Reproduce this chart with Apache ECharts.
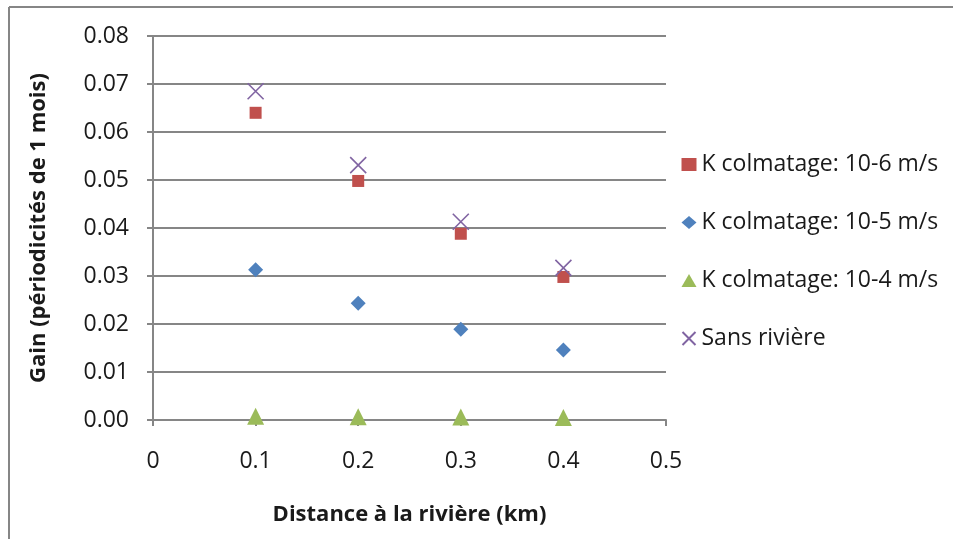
<!DOCTYPE html>
<html>
<head>
<meta charset="utf-8">
<script src="https://cdn.jsdelivr.net/npm/echarts@6/dist/echarts.min.js"></script>
<style>
  html, body { margin: 0; padding: 0; background: #fff; }
  #main { width: 953px; height: 539px; }
</style>
</head>
<body>
<div id="main"></div>
<script>
var distances = [0.1, 0.2, 0.3, 0.4];
var k6Values = [0.0640, 0.0498, 0.0388, 0.0298];
var k5Values = [0.0313, 0.0243, 0.0189, 0.0146];
var k4Values = [0.0008, 0.0007, 0.0006, 0.0005];
var sansValues = [0.0685, 0.0531, 0.0413, 0.0317];
var seriesNames = ['K colmatage: 10-6 m/s', 'K colmatage: 10-5 m/s', 'K colmatage: 10-4 m/s', 'Sans rivière'];

function pairs(xs, ys) {
    return xs.map(function (x, i) { return [x, ys[i]]; });
}

var chart = echarts.init(document.getElementById('main'));
var font = 'Open Sans';
var gray = '#868686';

var option = {
    backgroundColor: '#fff',
    animation: false,
    textStyle: { fontFamily: font },
    graphic: [
        { type: 'line', shape: { x1: 9, y1: 7, x2: 953, y2: 7 }, style: { stroke: gray, lineWidth: 2 } },
        { type: 'line', shape: { x1: 9, y1: 7, x2: 9, y2: 539 }, style: { stroke: gray, lineWidth: 2 } }
    ],
    grid: { left: 153, right: 287, top: 36, bottom: 119 },
    legend: {
        orient: 'vertical',
        left: 675,
        top: 148,
        itemGap: 35,
        itemWidth: 15,
        itemHeight: 13,
        textStyle: { fontFamily: font, fontSize: 23, color: '#1a1a1a' },
        data: seriesNames
    },
    xAxis: {
        type: 'value',
        min: 0,
        max: 0.5,
        interval: 0.1,
        name: 'Distance à la rivière (km)',
        nameLocation: 'middle',
        nameGap: 84,
        nameTextStyle: { fontFamily: font, fontSize: 22, fontWeight: 'bold', color: '#1a1a1a' },
        axisLine: { lineStyle: { color: gray, width: 2 } },
        axisTick: { show: true, length: 6, lineStyle: { color: gray, width: 2 } },
        axisLabel: { margin: 30, fontSize: 23, color: '#1a1a1a', fontFamily: font },
        splitLine: { show: false }
    },
    yAxis: {
        type: 'value',
        min: 0,
        max: 0.08,
        interval: 0.01,
        name: 'Gain (périodicités de 1 mois)',
        nameLocation: 'middle',
        nameGap: 103,
        nameTextStyle: { fontFamily: font, fontSize: 22, fontWeight: 'bold', color: '#1a1a1a' },
        axisLine: { show: true, lineStyle: { color: gray, width: 2 } },
        axisTick: { show: true, length: 6, lineStyle: { color: gray, width: 2 } },
        axisLabel: {
            margin: 24, fontSize: 23, color: '#1a1a1a', fontFamily: font,
            formatter: function (v) { return v.toFixed(2); }
        },
        splitLine: { lineStyle: { color: gray, width: 2 } }
    },
    series: [
        {
            name: seriesNames[0],
            type: 'scatter',
            symbol: 'rect',
            symbolSize: 12,
            itemStyle: { color: '#C0504D', opacity: 1 },
            data: pairs(distances, k6Values)
        },
        {
            name: seriesNames[1],
            type: 'scatter',
            symbol: 'diamond',
            symbolSize: 15,
            itemStyle: { color: '#4F81BD', opacity: 1 },
            data: pairs(distances, k5Values)
        },
        {
            name: seriesNames[2],
            type: 'scatter',
            symbol: 'triangle',
            symbolSize: 17,
            itemStyle: { color: '#9BBB59', opacity: 1 },
            data: pairs(distances, k4Values)
        },
        {
            name: seriesNames[3],
            type: 'scatter',
            symbol: 'path://M0,0L10,10M10,0L0,10',
            symbolSize: 16,
            itemStyle: { color: 'none', borderColor: '#8064A2', borderWidth: 1.6, opacity: 1 },
            data: pairs(distances, sansValues)
        }
    ]
};

chart.setOption(option);
</script>
</body>
</html>
